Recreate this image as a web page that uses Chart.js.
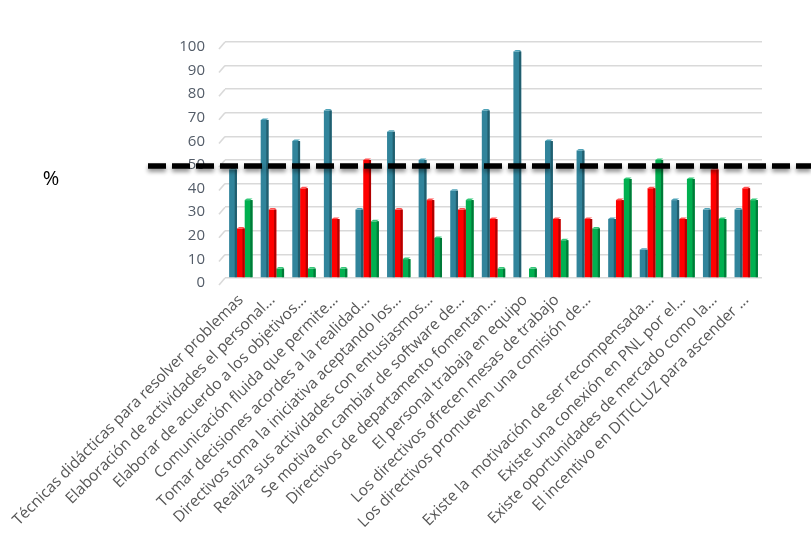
<!DOCTYPE html>
<html>
<head>
<meta charset="utf-8">
<script src="https://cdn.jsdelivr.net/npm/chart.js@4"></script>
<style>
  html, body { margin: 0; padding: 0; background: #ffffff; }
  #wrap { width: 811px; height: 542px; position: relative; }
</style>
</head>
<body>
<div id="wrap"><canvas id="c" width="811" height="542"></canvas></div>
<script>
const categories = [
  'Técnicas didácticas para resolver problemas',
  'Elaboración de actividades el personal...',
  'Elaborar de acuerdo a los objetivos...',
  'Comunicación fluida que permite...',
  'Tomar decisiones acordes a la realidad...',
  'Directivos toma la iniciativa aceptando los...',
  'Realiza sus actividades con entusiasmos...',
  'Se motiva en cambiar de software de...',
  'Directivos de departamento fomentan...',
  'El personal trabaja en equipo',
  'Los directivos ofrecen mesas de trabajo',
  'Los directivos promueven una comisión de...',
  '',
  'Existe la  motivación de ser recompensada...',
  'Existe una conexión en PNL por el...',
  'Existe oportunidades de mercado como la...',
  'El incentivo en DITICLUZ para ascender ...'
];
const seriesBlue  = [46, 67, 58, 71, 29, 62, 50, 37, 71, 96, 58, 54, 25, 12, 33, 29, 29];
const seriesRed   = [21, 29, 38, 25, 50, 29, 33, 29, 25, 0, 25, 25, 33, 38, 25, 46, 38];
const seriesGreen = [33, 4, 4, 4, 24, 8, 17, 33, 4, 4, 16, 21, 42, 50, 42, 25, 33];
const yTicks = [0, 10, 20, 30, 40, 50, 60, 70, 80, 90, 100];
const referenceLevel = 47.5;
const axisUnit = '%';

const faceColors = ['#31849b', '#ff0000', '#00b050'];
const sideColors = ['#215e6e', '#b00000', '#007a38'];
const topColors  = ['#4fa3b8', '#ff5050', '#33c878'];

const bar3d = {
  id: 'bar3d',
  afterDatasetsDraw(chart) {
    const ctx = chart.ctx;
    chart.data.datasets.forEach((ds, di) => {
      const meta = chart.getDatasetMeta(di);
      meta.data.forEach((el) => {
        const p = el.getProps(['x', 'y', 'base', 'width'], true);
        const h = p.base - p.y;
        if (h <= 0.5) return;
        const left = p.x - p.width / 2, right = p.x + p.width / 2;
        const s = 2.2;
        ctx.save();
        ctx.fillStyle = sideColors[di];
        ctx.fillRect(right - s, p.y, s, h);
        ctx.fillStyle = topColors[di];
        ctx.beginPath();
        ctx.moveTo(left, p.y);
        ctx.lineTo(left + s, p.y - 1.5);
        ctx.lineTo(right, p.y - 1.5);
        ctx.lineTo(right - s, p.y);
        ctx.closePath();
        ctx.fill();
        ctx.restore();
      });
    });
  }
};

const extras = {
  id: 'extras',
  beforeDatasetsDraw(chart) {
    const ctx = chart.ctx, ys = chart.scales.y, a = chart.chartArea;
    ctx.save();
    ctx.strokeStyle = '#d9d9d9';
    ctx.lineWidth = 1.6;
    yTicks.forEach(v => {
      const y = ys.getPixelForValue(v);
      ctx.beginPath();
      ctx.moveTo(a.left - 6, y + 7);
      ctx.lineTo(a.left, y);
      ctx.stroke();
    });
    ctx.restore();
  },
  afterDraw(chart) {
    const ctx = chart.ctx, ys = chart.scales.y;
    const y = ys.getPixelForValue(referenceLevel);
    ctx.save();
    ctx.strokeStyle = '#000000';
    ctx.lineWidth = 5.5;
    ctx.setLineDash([18, 6]);
    ctx.shadowColor = 'rgba(0,0,0,0.45)';
    ctx.shadowBlur = 4;
    ctx.shadowOffsetY = 3;
    ctx.beginPath();
    ctx.moveTo(148, y);
    ctx.lineTo(811, y);
    ctx.stroke();
    ctx.restore();
    ctx.save();
    ctx.fillStyle = '#000000';
    ctx.font = '20px "Open Sans"';
    ctx.textAlign = 'center';
    ctx.textBaseline = 'middle';
    ctx.fillText(axisUnit, 51, 179);
    ctx.restore();
  }
};

new Chart(document.getElementById('c'), {
  type: 'bar',
  data: {
    labels: categories,
    datasets: [
      { label: 'Serie 1', data: seriesBlue, backgroundColor: faceColors[0] },
      { label: 'Serie 2', data: seriesRed, backgroundColor: faceColors[1] },
      { label: 'Serie 3', data: seriesGreen, backgroundColor: faceColors[2] }
    ]
  },
  options: {
    responsive: false,
    animation: false,
    devicePixelRatio: 1,
    layout: { padding: { top: 42, right: 49, bottom: 0, left: 0 } },
    datasets: { bar: { categoryPercentage: 0.74, barPercentage: 1.0 } },
    plugins: { legend: { display: false }, tooltip: { enabled: false } },
    scales: {
      x: {
        grid: { display: false },
        border: { display: false },
        ticks: {
          autoSkip: false,
          maxRotation: 45,
          minRotation: 45,
          padding: 5,
          color: '#565656',
          font: { family: '"Open Sans"', size: 15.5 }
        },
        afterFit(scale) {
          scale.height = 264;
          scale.paddingLeft = 0;
          scale.paddingRight = 0;
        }
      },
      y: {
        min: 0,
        max: 100,
        afterBuildTicks(scale) { scale.ticks = yTicks.map(v => ({ value: v })); },
        grid: { color: '#d9d9d9', lineWidth: 1.6, drawTicks: false },
        border: { display: false },
        ticks: {
          padding: 20,
          labelOffset: 5,
          color: '#535c68',
          font: { family: '"Open Sans"', size: 15 }
        },
        afterFit(scale) { scale.width = 225; }
      }
    }
  },
  plugins: [bar3d, extras]
});
</script>
</body>
</html>
